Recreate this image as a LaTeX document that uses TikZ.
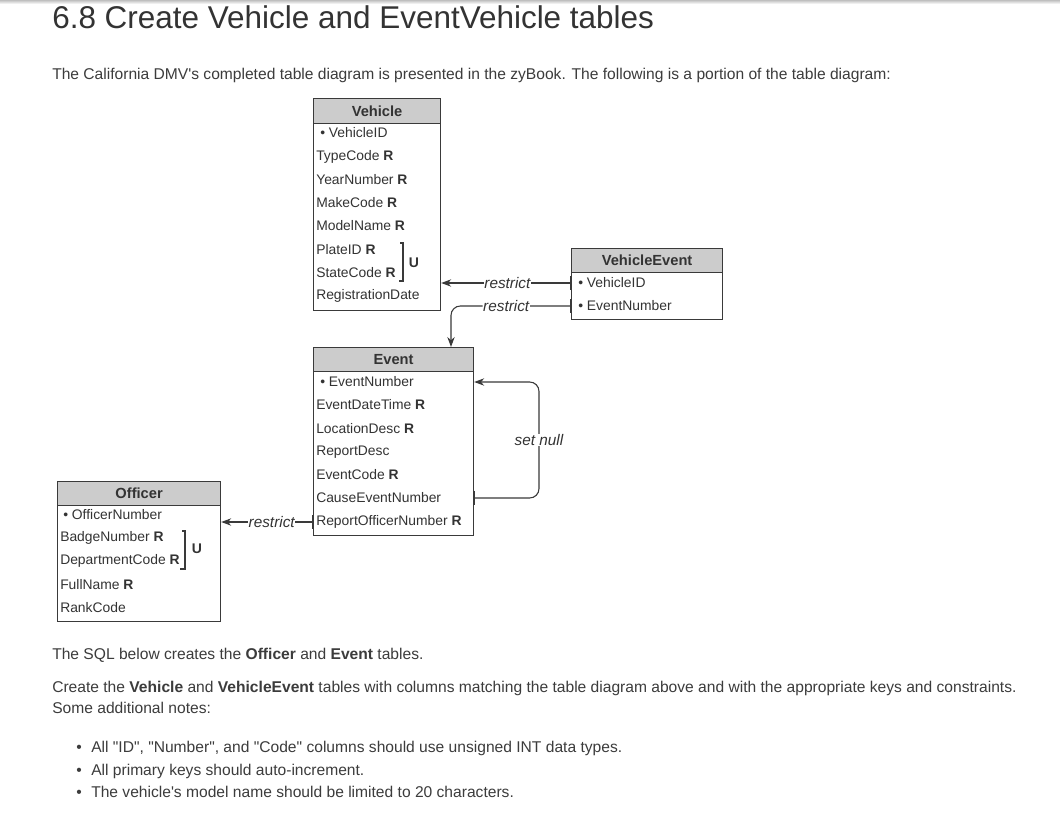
\documentclass[tikz,border=0pt]{standalone}
\usepackage{fontspec}
\setmainfont{Liberation Sans}
\usetikzlibrary{arrows.meta}
\definecolor{hdrgray}{HTML}{CCCCCC}
\definecolor{linec}{HTML}{3A3A3A}
\definecolor{txt}{HTML}{333333}
\definecolor{pagetxt}{HTML}{3C3C3C}
\tikzset{
  hdr/.style={draw=linec, line width=0.9pt, fill=hdrgray, inner sep=0pt, anchor=north west, font=\fontsize{11}{13}\selectfont\bfseries, text=txt},
  tbody/.style={draw=linec, line width=0.9pt, fill=white, inner sep=0pt, anchor=north west},
  row/.style={anchor=west, inner sep=0pt, font=\fontsize{10.4}{12}\selectfont, text=txt},
  conn/.style={draw=linec, line width=0.8pt},
  arr/.style={-{Stealth[length=7.5pt,width=5.5pt]}},
  lbl/.style={fill=white, inner sep=0.5pt, font=\fontsize{11.5}{13}\selectfont\itshape, text=txt},
  tick/.style={draw=linec, line width=1.8pt},
  brk/.style={draw=linec, line width=0.8pt},
  ulbl/.style={inner sep=0pt, font=\fontsize{10.5}{12}\selectfont\bfseries, text=txt},
  ptxt/.style={anchor=base west, inner sep=0pt, font=\fontsize{11.7}{14}\selectfont, text=pagetxt},
}
\begin{document}
\begin{tikzpicture}[x=0.75pt, y=-0.75pt]
\useasboundingbox (0,0) rectangle (1060,821);
\fill[white] (0,0) rectangle (1060,821);
\shade[top color=black!25, bottom color=white] (0,0) rectangle (1060,4);

% page text
\node[ptxt, font=\fontsize{23.6}{27}\selectfont, text=txt] (title) at (52,28) {6.8 Create Vehicle and EventVehicle tables};
\node[ptxt] (p1) at (52,79) {The California DMV\textquotesingle s completed table diagram is presented in the zyBook. The following is a portion of the table diagram:};
\node[ptxt] (p2) at (52,659) {The SQL below creates the \textbf{Officer} and \textbf{Event} tables.};
\node[ptxt] (p3) at (52,692) {Create the \textbf{Vehicle} and \textbf{VehicleEvent} tables with columns matching the table diagram above and with the appropriate keys and constraints.};
\node[ptxt] (p4) at (52,713) {Some additional notes:};
\node[ptxt] (b1d) at (76,752) {•};
\node[ptxt] (b1) at (91,752) {All \textquotedbl ID\textquotedbl, \textquotedbl Number\textquotedbl, and \textquotedbl Code\textquotedbl{} columns should use unsigned INT data types.};
\node[ptxt] (b2d) at (76,775) {•};
\node[ptxt] (b2) at (91,775) {All primary keys should auto-increment.};
\node[ptxt] (b3d) at (76,797) {•};
\node[ptxt] (b3) at (91,797) {The vehicle\textquotesingle s model name should be limited to 20 characters.};

% Vehicle table
\node[tbody, minimum width=95.25pt, minimum height=140.25pt] (vb) at (313,123) {};
\node[hdr, minimum width=95.25pt, minimum height=18.75pt] (vh) at (313,98) {Vehicle};
\node[row] (v1) at (320,133) {• VehicleID};
\node[row] (v2) at (316,157) {TypeCode \textbf{R}};
\node[row] (v3) at (316,180) {YearNumber \textbf{R}};
\node[row] (v4) at (316,203) {MakeCode \textbf{R}};
\node[row] (v5) at (316,226) {ModelName \textbf{R}};
\node[row] (v6) at (316,250) {PlateID \textbf{R}};
\node[row] (v7) at (316,273) {StateCode \textbf{R}};
\node[row] (v8) at (316,296) {RegistrationDate};
\coordinate (vbt) at (403,243);
\coordinate (vbb) at (403,281);
\draw[brk] ([xshift=-2.25pt]vbt) -- (vbt) -- (vbb) -- ([xshift=-3pt]vbb);
\node[ulbl] (vu) at (414,263) {U};

% VehicleEvent table
\node[tbody, minimum width=113.25pt, minimum height=35.25pt] (eb) at (571,272) {};
\node[hdr, minimum width=113.25pt, minimum height=18pt] (eh) at (571,248) {VehicleEvent};
\node[row] (e1) at (578,283) {• VehicleID};
\node[row] (e2) at (578,306) {• EventNumber};

% Event table
\node[tbody, minimum width=120pt, minimum height=123pt] (vtb) at (313,371) {};
\node[hdr, minimum width=120pt, minimum height=18pt] (vth) at (313,347) {Event};
\node[row] (t1) at (320,382) {• EventNumber};
\node[row] (t2) at (316,405) {EventDateTime \textbf{R}};
\node[row] (t3) at (316,429) {LocationDesc \textbf{R}};
\node[row] (t4) at (316,452) {ReportDesc};
\node[row] (t5) at (316,475) {EventCode \textbf{R}};
\node[row] (t6) at (316,498) {CauseEventNumber};
\node[row] (t7) at (316,522) {ReportOfficerNumber \textbf{R}};

% Officer table
\node[tbody, minimum width=122.25pt, minimum height=87pt] (ob) at (57,505) {};
\node[hdr, minimum width=122.25pt, minimum height=18pt] (oh) at (57,481) {Officer};
\node[row] (o1) at (63,515) {• OfficerNumber};
\node[row] (o2) at (60,538) {BadgeNumber \textbf{R}};
\node[row] (o3) at (60,561) {DepartmentCode \textbf{R}};
\node[row] (o4) at (60,585) {FullName \textbf{R}};
\node[row] (o5) at (60,608) {RankCode};
\coordinate (obt) at (185,531);
\coordinate (obb) at (185,569);
\draw[brk] ([xshift=-2.25pt]obt) -- (obt) -- (obb) -- ([xshift=-3.5pt]obb);
\node[ulbl] (ou) at (197,549) {U};

% connectors
\draw[conn, arr] (eb.west |- e1) -- node[lbl, pos=0.49] {restrict} (vb.east |- e1);
\draw[tick] ([yshift=5pt]eb.west |- e1) -- ([yshift=-5pt]eb.west |- e1);
\coordinate (c2) at (451,306);
\draw[conn, arr, rounded corners=7pt] (eb.west |- e2) -- node[lbl, pos=0.54] {restrict} (c2) -- (c2 |- vth.north);
\draw[tick] ([yshift=5pt]eb.west |- e2) -- ([yshift=-5pt]eb.west |- e2);

\coordinate (sn) at (539,440);
\draw[conn, arr, rounded corners=7pt] (vtb.east |- t6) -- (sn |- t6) -- (sn |- t1) -- (vtb.east |- t1);
\node[lbl] (snl) at (sn) {set null};
\draw[tick] ([yshift=5.5pt]vtb.east |- t6) -- ([yshift=-5.5pt]vtb.east |- t6);

\draw[conn, arr] (vtb.west |- t7) -- node[lbl, pos=0.45] {restrict} (ob.east |- t7);
\draw[tick] ([yshift=5.5pt]vtb.west |- t7) -- ([yshift=-5.5pt]vtb.west |- t7);
\end{tikzpicture}
\end{document}
